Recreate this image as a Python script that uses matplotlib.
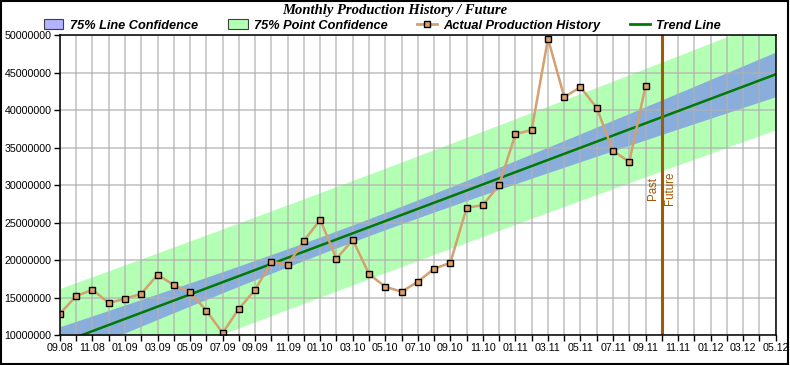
import numpy as np
import matplotlib
matplotlib.use("Agg")
import matplotlib.pyplot as plt
from matplotlib.patches import Patch, Rectangle
from matplotlib.lines import Line2D

# -------------------------------
# Datos: producción mensual 09.08 .. 09.11
# -------------------------------
month_labels = ["09.08", "10.08", "11.08", "12.08", "01.09", "02.09", "03.09", "04.09",
                "05.09", "06.09", "07.09", "08.09", "09.09", "10.09", "11.09", "12.09",
                "01.10", "02.10", "03.10", "04.10", "05.10", "06.10", "07.10", "08.10",
                "09.10", "10.10", "11.10", "12.10", "01.11", "02.11", "03.11", "04.11",
                "05.11", "06.11", "07.11", "08.11", "09.11", "10.11", "11.11", "12.11",
                "01.12", "02.12", "03.12", "04.12", "05.12"]
production = [12840000, 15200000, 16040000, 14270000, 14840000, 15510000, 18040000,
              16670000, 15730000, 13240000, 10270000, 13510000, 16040000, 19780000,
              19380000, 22580000, 25380000, 20180000, 22710000, 18130000, 16440000,
              15780000, 17110000, 18840000, 19640000, 26980000, 27330000, 30040000,
              36800000, 37370000, 49550000, 41770000, 43070000, 40310000, 34570000,
              33110000, 43240000]
past_future_month = "10.11"
t_75 = 1.17  # t de Student, 75% dos colas, 35 g.l.

# -------------------------------
# Regresión lineal y bandas de confianza
# -------------------------------
n = len(production)
x_hist = np.arange(n)
y_hist = np.array(production, dtype=float)
slope, intercept = np.polyfit(x_hist, y_hist, 1)
resid = y_hist - (intercept + slope * x_hist)
s = np.sqrt(np.sum(resid ** 2) / (n - 2))
sxx = np.sum((x_hist - x_hist.mean()) ** 2)

x_all = np.linspace(0, len(month_labels) - 1, 300)
trend = intercept + slope * x_all
se_line = s * np.sqrt(1.0 / n + (x_all - x_hist.mean()) ** 2 / sxx)
se_point = s * np.sqrt(1 + 1.0 / n + (x_all - x_hist.mean()) ** 2 / sxx)

# -------------------------------
# Figura
# -------------------------------
fig = plt.figure(figsize=(7.9, 3.65), dpi=100)
ax = fig.add_axes([0.0759, 0.0822, 0.9060, 0.8211])

green_c = "#B3FFB3"
blue_c = "#8AAEDC"
ax.fill_between(x_all, trend - t_75 * se_point, trend + t_75 * se_point,
                color=green_c, lw=0, zorder=1)
ax.fill_between(x_all, trend - t_75 * se_line, trend + t_75 * se_line,
                color=blue_c, lw=0, zorder=2)

ax.set_xlim(0, len(month_labels) - 1)
ax.set_ylim(10000000, 50000000)
ax.set_xticks(np.arange(len(month_labels)))
ax.set_xticklabels([lab if i % 2 == 0 else "" for i, lab in enumerate(month_labels)])
ax.set_yticks(np.arange(10000000, 50000001, 5000000))
ax.set_yticklabels([str(v) for v in range(10000000, 50000001, 5000000)])
ax.grid(True, color="#B0B0B0", lw=1.1, alpha=0.8, zorder=3)
ax.set_axisbelow(False)

ax.plot(x_all, trend, color="#007A00", lw=1.8, zorder=4)
ax.plot(x_hist, y_hist, color="#D4A070", lw=1.8, zorder=5,
        marker="s", markersize=5, markerfacecolor="#D9A068",
        markeredgecolor="black", markeredgewidth=1)

# Línea pasado / futuro
pf = month_labels.index(past_future_month)
pf_c = "#A05A00"
ax.axvline(pf, color=pf_c, lw=2.2, zorder=6)
ax.text(pf - 0.15, 0.49, "Past", transform=ax.get_xaxis_transform(), rotation=90,
        ha="right", va="center", color=pf_c, fontsize=8.3, family="Liberation Sans")
ax.text(pf + 0.15, 0.49, "Future", transform=ax.get_xaxis_transform(), rotation=90,
        ha="left", va="center", color=pf_c, fontsize=8.3, family="Liberation Sans")

for sp in ax.spines.values():
    sp.set_color("black")
    sp.set_linewidth(1.1)
    sp.set_zorder(7)
ax.tick_params(direction="out", length=4, width=1, color="black",
               labelsize=7.7, pad=2)
for lab in ax.get_xticklabels() + ax.get_yticklabels():
    lab.set_family("Liberation Sans")

# Título y leyenda
fig.text(0.5, 0.99, "Monthly Production History / Future", ha="center", va="top",
         fontsize=10.5, fontweight="bold", fontstyle="italic", family="Liberation Serif")

handles = [
    Patch(facecolor="#B3B3FF", edgecolor="#404040", lw=0.8),
    Patch(facecolor=green_c, edgecolor="#404040", lw=0.8),
    Line2D([], [], color="#D4A070", lw=2, marker="s", markersize=5,
           markerfacecolor="#D9A068", markeredgecolor="black"),
    Line2D([], [], color="#007A00", lw=2),
]
labels = ["75% Line Confidence", "75% Point Confidence",
          "Actual Production History", "Trend Line"]
fig.legend(handles, labels, loc="center", bbox_to_anchor=(0.484, 0.930), ncol=4,
           frameon=False, handlelength=1.56, handleheight=0.75, handletextpad=0.47,
           columnspacing=2.35, borderpad=0,
           prop={"family": "Liberation Sans", "weight": "bold", "style": "italic",
                 "size": 9.2})

fig.patches.append(Rectangle((0.001, 0.004), 0.997, 0.993, transform=fig.transFigure,
                             fill=False, edgecolor="black", lw=1.5))

fig.savefig("out.png", dpi=100, facecolor="white")
